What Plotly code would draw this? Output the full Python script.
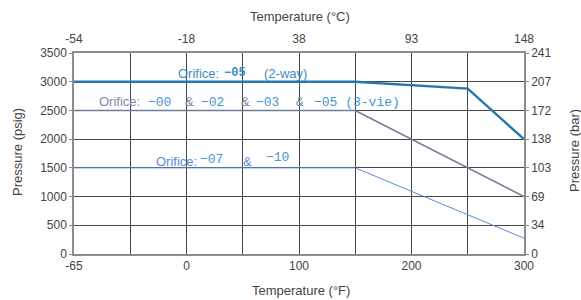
import plotly.graph_objects as go

# Temperature axis: the left edge is labelled -65 °F but sits one grid step left of -50
temp_F_ticks = [-100, 0, 100, 200, 300]
temp_F_labels = ["-65", "0", "100", "200", "300"]
temp_C_labels = ["-54", "-18", "38", "93", "148"]
psig_ticks = [0, 500, 1000, 1500, 2000, 2500, 3000, 3500]
bar_labels = ["0", "34", "69", "103", "138", "172", "207", "241"]

# Series (x in °F positions, y in psig)
twoway_x = [-100, 150, 250, 300]
twoway_y = [3000, 3000, 2880, 2000]
threeway_x = [-100, 150, 300]
threeway_y = [2500, 2500, 1000]
small_x = [-100, 150, 300]
small_y = [1500, 1500, 275]

FONT = "Liberation Sans, Arial, sans-serif"
TFONT = "Liberation Sans, Arial, sans-serif"
MONO = "Liberation Mono, DejaVu Sans Mono, monospace"
TXT = "#444444"
GRID = "#474747"
FRAME = "#8c8c8c"

fig = go.Figure()
fig.add_trace(go.Scatter(x=small_x, y=small_y, mode="lines",
                         line=dict(color="#5b8ad6", width=1), showlegend=False))
fig.add_trace(go.Scatter(x=threeway_x, y=threeway_y, mode="lines",
                         line=dict(color="#6d7c98", width=1.6), showlegend=False))
fig.add_trace(go.Scatter(x=twoway_x, y=twoway_y, mode="lines",
                         line=dict(color="#2777ad", width=2.4), showlegend=False))
# invisible trace for secondary axes
fig.add_trace(go.Scatter(x=[-100, 300], y=[0, 3500], xaxis="x2", yaxis="y2",
                         mode="markers", marker=dict(opacity=0), showlegend=False,
                         hoverinfo="skip"))

X0, X1 = 74, 524
Y0, Y1 = 254, 53
W, H = 581, 300


def px_x(p):
    return (p - X0) / (X1 - X0)


def px_y(p):
    return (Y0 - p) / (Y0 - Y1)


def seg(text, x, y, color, family=TFONT, size=13, bold=False, xanchor="left", angle=0):
    if bold:
        text = "<b>" + text + "</b>"
    fig.add_annotation(text=text, x=px_x(x), y=px_y(y), xref="paper", yref="paper",
                       xanchor=xanchor, yanchor="middle", showarrow=False, textangle=angle,
                       font=dict(family=family, size=size, color=color))


BLUE1 = "#3a8cc6"
MONOBLUE = "#3f97d6"
GRAY = "#7a8aa6"
LBLUE = "#5b8ad6"

seg("Orifice:", 176, 73, BLUE1)
seg("\u221205", 222, 73, BLUE1, family=MONO, size=12, bold=True)
seg("(2-way)", 262, 73, BLUE1)

seg("Orifice:", 97, 101, GRAY)
seg("\u221200", 146, 102, MONOBLUE, family=MONO)
seg("&amp;", 183, 101, GRAY)
seg("\u221202", 199, 102, MONOBLUE, family=MONO)
seg("&amp;", 239, 101, GRAY)
seg("\u221203", 254, 102, MONOBLUE, family=MONO)
seg("&amp;", 294, 102, GRAY, family=MONO)
seg("\u221205 (3-vie)", 312, 102, MONOBLUE, family=MONO)

seg("Orifice:", 154, 161, LBLUE)
seg("\u221207", 198, 159, MONOBLUE, family=MONO)
seg("&amp;", 241, 161, LBLUE)
seg("\u221210", 264, 157, MONOBLUE, family=MONO)

# axis titles
seg("Temperature (°C)", 300, 17, TXT, xanchor="center")
seg("Temperature (°F)", 301, 290, TXT, xanchor="center")
seg("Pressure (psig)", 17, 152, TXT, xanchor="center", angle=-90)
seg("Pressure (bar)", 574, 151, TXT, xanchor="center", angle=-90)

common = dict(automargin=False, zeroline=False, showline=True, linecolor=FRAME,
              linewidth=1.5, tickfont=dict(family=FONT, size=12, color=TXT))

fig.update_layout(
    width=W, height=H,
    margin=dict(l=X0, r=W - X1, t=Y1, b=H - Y0),
    paper_bgcolor="white", plot_bgcolor="white",
    font=dict(family=FONT, size=12, color=TXT),
    xaxis=dict(range=[-100, 300], tickvals=temp_F_ticks, ticktext=temp_F_labels,
               showgrid=True, gridcolor=GRID, gridwidth=1, ticks="",
               minor=dict(tickvals=[-50, 50, 150, 250], showgrid=True,
                          gridcolor=GRID, gridwidth=1), **common),
    xaxis2=dict(range=[-100, 300], tickvals=temp_F_ticks, ticktext=temp_C_labels,
                overlaying="x", side="top", showgrid=False, ticks="",
                ticklabelstandoff=3, **common),
    yaxis=dict(range=[0, 3500], tickvals=psig_ticks, showgrid=True, gridcolor=GRID,
               gridwidth=1, ticks="outside", ticklen=3, tickcolor=FRAME, **common),
    yaxis2=dict(range=[0, 3500], tickvals=psig_ticks, ticktext=bar_labels,
                overlaying="y", side="right", showgrid=False, ticks="outside",
                ticklen=3, tickcolor=FRAME, **common),
)

fig.write_html("out.html", config={"displayModeBar": False},
               post_script="document.body.style.margin='0';document.body.style.padding='0';")
